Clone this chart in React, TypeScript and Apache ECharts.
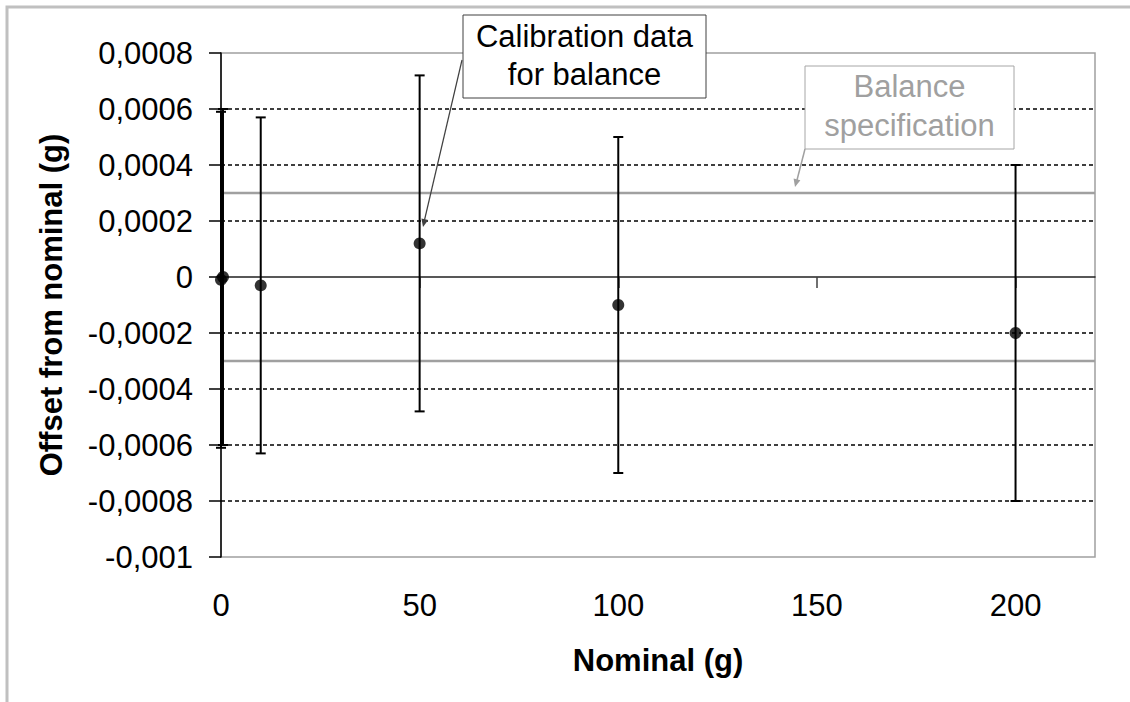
import React, { useEffect, useRef } from 'react';
import * as echarts from 'echarts';

// ---- data ----
const nominal = [0, 0.5, 10, 50, 100, 200];
const offset = [-0.00001, 0, -0.00003, 0.00012, -0.0001, -0.0002];
const uncertainty = [0.0006, 0.0006, 0.0006, 0.0006, 0.0006, 0.0006];
const specLimits = [0.0003, -0.0003];
const gridLevels = [0.0006, 0.0004, 0.0002, -0.0002, -0.0004, -0.0006, -0.0008];
const xTicks = [0, 50, 100, 150, 200];

const FONT = '"Liberation Sans", Arial, Helvetica, sans-serif';

export default function App() {
  const ref = useRef<HTMLDivElement>(null);

  useEffect(() => {
    if (!ref.current) return;
    const chart = echarts.init(ref.current, null, { renderer: 'svg' });

    const errData = nominal.map((x, i) => [x, offset[i] - uncertainty[i], offset[i] + uncertainty[i]]);
    const ptData = nominal.map((x, i) => [x, offset[i]]);
    const fmt = (v: number) => String(Number(v.toFixed(4))).replace('.', ',');

    const renderItem = (params: any, api: any) => {
      const x = api.value(0);
      const lo = api.value(1);
      const hi = api.value(2);
      const top = api.coord([x, hi]);
      const bot = api.coord([x, lo]);
      const w = 5;
      const st = { stroke: '#000', lineWidth: 2 };
      return {
        type: 'group',
        children: [
          { type: 'line', shape: { x1: top[0], y1: top[1], x2: bot[0], y2: bot[1] }, style: st },
          { type: 'line', shape: { x1: top[0] - w, y1: top[1], x2: top[0] + w, y2: top[1] }, style: st },
          { type: 'line', shape: { x1: bot[0] - w, y1: bot[1], x2: bot[0] + w, y2: bot[1] }, style: st },
        ],
      };
    };

    const hLine = (style: any) => (params: any, api: any) => {
      const v = api.value(0);
      const p = api.coord([0, v]);
      const cs = params.coordSys;
      return {
        type: 'line',
        shape: { x1: cs.x, y1: p[1], x2: cs.x + cs.width, y2: p[1] },
        style,
      };
    };

    const textStyle = (text: string, fill: string, bold = false) => ({
      text,
      fill,
      fontSize: 31,
      fontFamily: FONT,
      fontWeight: bold ? 'bold' : 'normal',
      textAlign: 'center',
      align: 'center',
      textVerticalAlign: 'middle',
      verticalAlign: 'middle',
      lineHeight: 38.5,
    });

    chart.setOption({
      animation: false,
      backgroundColor: '#ffffff',
      grid: {
        left: 221,
        right: 35,
        top: 53,
        bottom: 145,
        show: true,
        borderColor: '#a0a0a0',
        borderWidth: 1.5,
        backgroundColor: 'transparent',
      },
      xAxis: [
        {
          type: 'value',
          min: 0,
          max: 220,
          interval: 50,
          position: 'bottom',
          axisLine: { show: false, onZero: false },
          axisTick: { show: false },
          splitLine: { show: false },
          axisLabel: {
            customValues: xTicks,
            margin: 33,
            fontSize: 31,
            color: '#000',
            fontFamily: FONT,
          },
        },
        {
          type: 'value',
          min: 0,
          max: 220,
          interval: 50,
          position: 'top',
          axisLine: { show: true, onZero: true, lineStyle: { color: '#202020', width: 1.5 } },
          axisTick: {
            show: true,
            inside: true,
            length: 11,
            customValues: xTicks,
            lineStyle: { color: '#404040', width: 1.5 },
          },
          axisLabel: { show: false },
          splitLine: { show: false },
        },
      ],
      yAxis: {
        type: 'value',
        min: -0.001,
        max: 0.0008,
        interval: 0.0002,
        axisLine: { show: true, onZero: false, lineStyle: { color: '#000', width: 1.5 } },
        axisTick: { show: true, length: 12, lineStyle: { color: '#000', width: 1.5 } },
        axisLabel: { formatter: fmt, margin: 28, fontSize: 31, color: '#000', fontFamily: FONT },
        splitLine: { show: false },
      },
      series: [
        {
          type: 'custom',
          data: gridLevels.map((v) => [v]),
          encode: { y: 0 },
          renderItem: hLine({ stroke: '#000', lineWidth: 1.3, lineDash: [4, 3] }),
          z: 1,
          silent: true,
        },
        {
          type: 'custom',
          data: specLimits.map((v) => [v]),
          encode: { y: 0 },
          renderItem: hLine({ stroke: '#a0a0a0', lineWidth: 2.5 }),
          z: 2,
          silent: true,
        },
        {
          type: 'custom',
          data: errData,
          encode: { x: 0, y: [1, 2] },
          renderItem,
          z: 3,
          silent: true,
        },
        {
          type: 'scatter',
          data: ptData,
          symbol: 'circle',
          symbolSize: 12,
          itemStyle: { color: '#000' },
          z: 4,
          silent: true,
        },
      ],
      graphic: [
        {
          type: 'rect',
          z: 0,
          shape: { x: 7, y: 7, width: 1300, height: 900 },
          style: { fill: 'none', stroke: '#c0c0c0', lineWidth: 3 },
          silent: true,
        },
        // axis titles
        {
          type: 'text',
          x: 51,
          y: 305,
          rotation: Math.PI / 2,
          style: textStyle('Offset from nominal (g)', '#000', true),
        },
        {
          type: 'text',
          x: 658,
          y: 660,
          style: textStyle('Nominal (g)', '#000', true),
        },
        // calibration annotation
        {
          type: 'line',
          z: 10,
          shape: { x1: 462, y1: 60, x2: 424.5, y2: 220 },
          style: { stroke: '#404040', lineWidth: 1.2 },
        },
        {
          type: 'polygon',
          z: 10,
          shape: { points: [[423, 227], [428.2, 220.0], [421.4, 218.4]] },
          style: { fill: '#404040' },
        },
        {
          type: 'rect',
          z: 10,
          shape: { x: 463, y: 15, width: 243, height: 83 },
          style: { fill: '#fff', stroke: '#404040', lineWidth: 1 },
        },
        {
          type: 'text',
          z: 11,
          x: 584.5,
          y: 55.5,
          style: textStyle('Calibration data\nfor balance', '#000'),
        },
        // balance spec annotation
        {
          type: 'line',
          z: 10,
          shape: { x1: 805, y1: 149, x2: 797, y2: 180 },
          style: { stroke: '#a0a0a0', lineWidth: 1.5 },
        },
        {
          type: 'polygon',
          z: 10,
          shape: { points: [[795, 187], [800.4, 180.2], [793.6, 178.4]] },
          style: { fill: '#a0a0a0' },
        },
        {
          type: 'rect',
          z: 10,
          shape: { x: 805, y: 66, width: 209, height: 83 },
          style: { fill: '#fff', stroke: '#a6a6a6', lineWidth: 1 },
        },
        {
          type: 'text',
          z: 11,
          x: 909.5,
          y: 106,
          style: textStyle('Balance\nspecification', '#a0a0a0'),
        },
      ],
    });

    return () => {
      chart.dispose();
    };
  }, []);

  return (
    <div
      ref={ref}
      style={{ position: 'absolute', left: 0, top: 0, width: 1130, height: 702, background: '#fff' }}
    />
  );
}
